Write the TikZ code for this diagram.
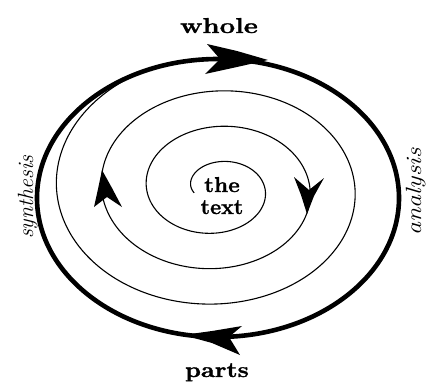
\documentclass[tikz,border=0pt]{standalone}
\usepackage{fontspec}
\setmainfont{Latin Modern Roman}[BoldFeatures={FakeBold=1.2}]
\usepackage{graphicx}
\begin{document}
\begin{tikzpicture}[x=1pt,y=-1pt,
  outer/.style={line width=4.6pt},
  spiral/.style={line width=1.1pt},
  head/.style={fill=black},
  lbl/.style={font=\fontsize{21.5}{24}\selectfont\bfseries, inner sep=0pt},
  side/.style={font=\fontsize{22}{24}\selectfont\itshape, inner sep=0pt}]
\useasboundingbox (0,0) rectangle (426,383);
% outer ellipse
\draw[outer] (218,198) ellipse [x radius=181, y radius=139];
% spiral (clockwise, growing outward)
\draw[spiral] plot[domain=-195:958, samples=400, variable=\t, smooth]
  ({217+(48+0.125*\t)*cos(\t)}, {188.6+(35.5+0.098611*\t)*sin(\t)});
% arrowheads
\fill[head] (268,60) -- (237,51) -- (207,44) -- (220,59) -- (205,74) -- (237,67) -- cycle;
\fill[head] (183,335) -- (212,331) -- (242,326) -- (229,337) -- (240,355) -- (212,343) -- cycle;
\fill[head] (307,214) -- (301,195) -- (294,177) -- (309,190) -- (324,178) -- (314,196) -- cycle;
\fill[head] (102,170) -- (98,189) -- (94,207) -- (107,197) -- (122,207) -- (112,188) -- cycle;
% labels
\node[lbl, anchor=base] (whole) at (219,33) {\scalebox{1.28}[1]{whole}};
\node[lbl, anchor=base] (parts) at (217,377) {\scalebox{1.18}[1]{parts}};
\node[lbl, anchor=base] (the) at (222,192) {\scalebox{1.05}[1]{the}};
\node[lbl, anchor=base] (text) at (222,214) {text};
\node[side, rotate=90, anchor=base] (synthesis) at (33,197) {synthesis};
\node[side, rotate=90, anchor=base] (analysis) at (421,192) {\scalebox{1.18}[1]{analysis}};
\end{tikzpicture}
\end{document}
